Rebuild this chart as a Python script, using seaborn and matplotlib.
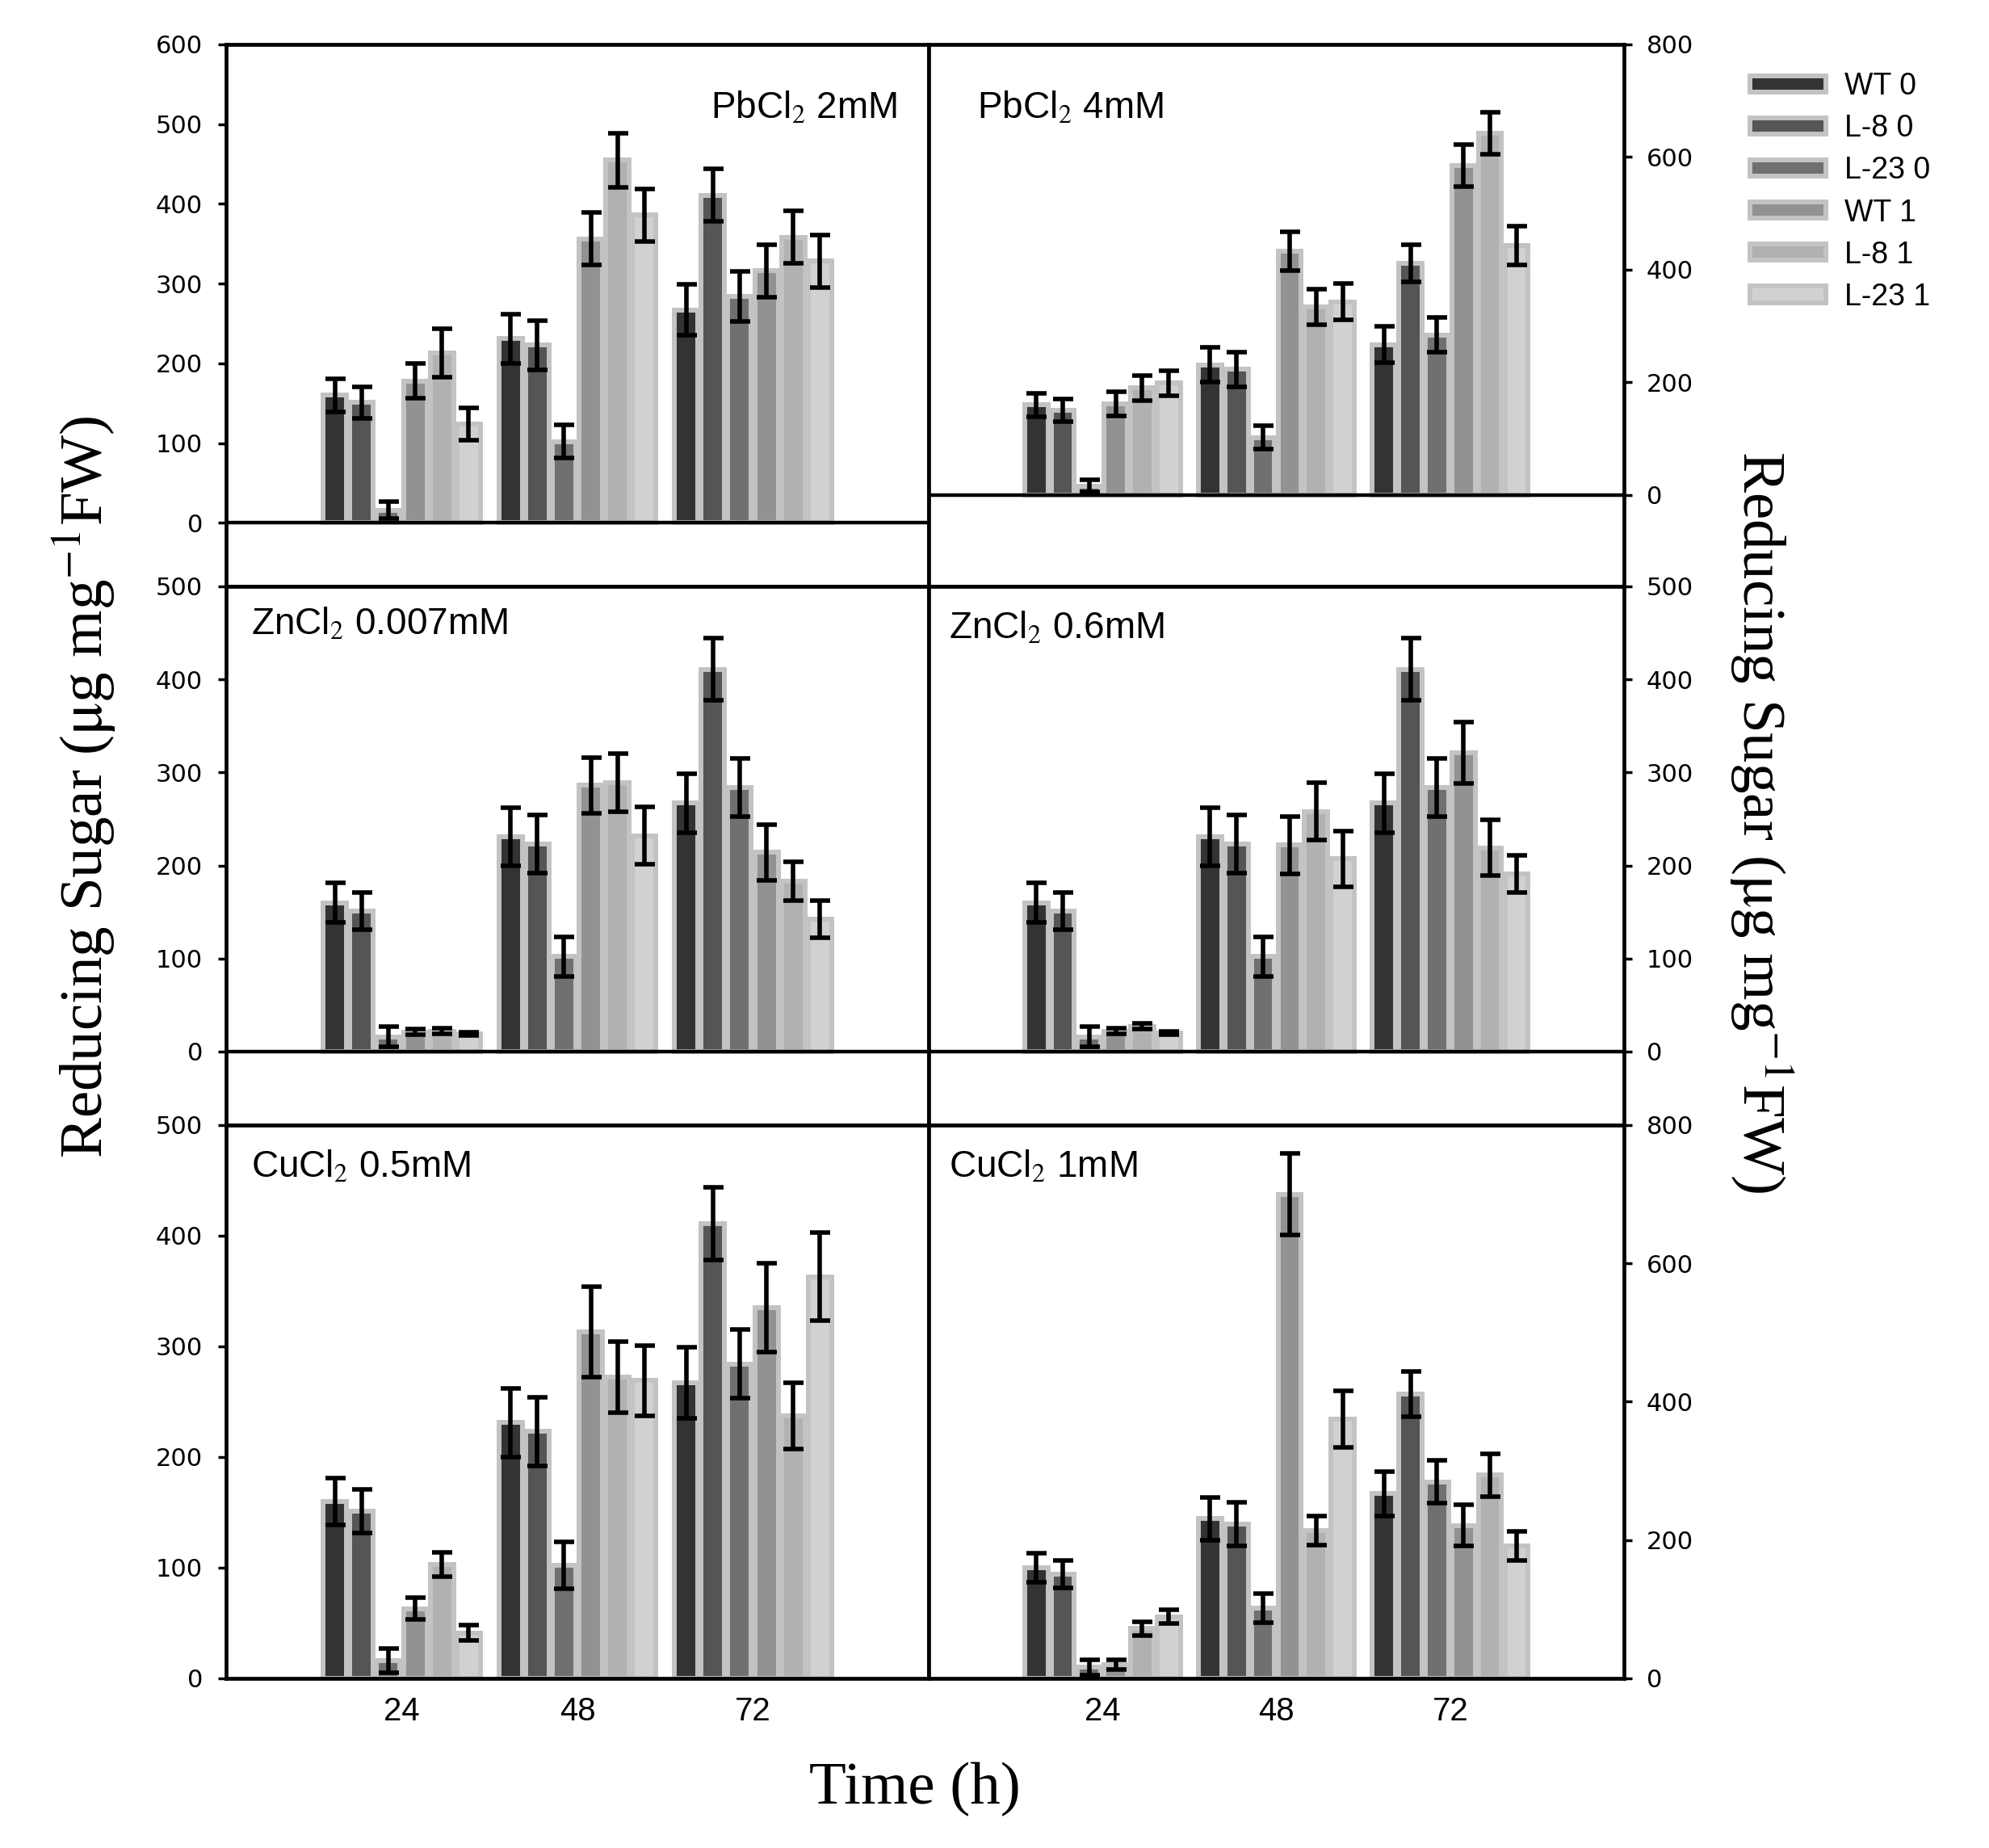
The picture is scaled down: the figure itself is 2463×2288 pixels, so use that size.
import numpy as np
import pandas as pd
import matplotlib
matplotlib.use("Agg")
import matplotlib.pyplot as plt
import seaborn as sns
from matplotlib.container import BarContainer

# ---------------- data ----------------
times = ["24", "48", "72"]
groups = ["WT 0", "L-8 0", "L-23 0", "WT 1", "L-8 1", "L-23 1"]
colors = ["#333333", "#555555", "#707070", "#929292", "#b1b1b1", "#d1d1d1"]

# controls (same in every panel)
wt0 = [160, 231, 267]
wt0_err = [21, 31, 32]
l8_0 = [151, 223, 411]
l8_0_err = [20, 31, 33]
l23_0 = [16, 102, 284]
l23_0_err = [11, 21, 31]

# PbCl2 2mM
pb2_wt1 = [178, 356, 316];   pb2_wt1_err = [22, 33, 33]
pb2_l81 = [213, 455, 358];   pb2_l81_err = [30, 34, 33]
pb2_l231 = [124, 386, 328];  pb2_l231_err = [20, 33, 33]
# PbCl2 4mM
pb4_wt1 = [162, 433, 585];   pb4_wt1_err = [21, 35, 37]
pb4_l81 = [190, 334, 642];   pb4_l81_err = [22, 32, 37]
pb4_l231 = [199, 343, 443];  pb4_l231_err = [22, 32, 34]
# ZnCl2 0.007mM
zn1_wt1 = [21, 286, 214];    zn1_wt1_err = [3, 30, 30]
zn1_l81 = [22, 289, 183];    zn1_l81_err = [3, 31, 21]
zn1_l231 = [19, 232, 142];   zn1_l231_err = [2, 31, 20]
# ZnCl2 0.6mM
zn2_wt1 = [22, 222, 321];    zn2_wt1_err = [3, 31, 33]
zn2_l81 = [27, 258, 219];    zn2_l81_err = [3, 31, 30]
zn2_l231 = [20, 207, 191];   zn2_l231_err = [2, 30, 20]
# CuCl2 0.5mM
cu1_wt1 = [63, 313, 335];    cu1_wt1_err = [10, 41, 40]
cu1_l81 = [103, 272, 237];   cu1_l81_err = [11, 32, 30]
cu1_l231 = [41, 269, 363];   cu1_l231_err = [7, 32, 40]
# CuCl2 1mM
cu2_wt1 = [20, 700, 221];    cu2_wt1_err = [7, 59, 30]
cu2_l81 = [72, 214, 294];    cu2_l81_err = [10, 21, 31]
cu2_l231 = [89, 375, 191];   cu2_l231_err = [10, 41, 21]

titles = [r"PbCl$_\mathrm{2}$ 2mM", r"PbCl$_\mathrm{2}$ 4mM",
          r"ZnCl$_\mathrm{2}$ 0.007mM", r"ZnCl$_\mathrm{2}$ 0.6mM",
          r"CuCl$_\mathrm{2}$ 0.5mM", r"CuCl$_\mathrm{2}$ 1mM"]
treat_vals = [(pb2_wt1, pb2_l81, pb2_l231), (pb4_wt1, pb4_l81, pb4_l231),
              (zn1_wt1, zn1_l81, zn1_l231), (zn2_wt1, zn2_l81, zn2_l231),
              (cu1_wt1, cu1_l81, cu1_l231), (cu2_wt1, cu2_l81, cu2_l231)]
treat_errs = [(pb2_wt1_err, pb2_l81_err, pb2_l231_err), (pb4_wt1_err, pb4_l81_err, pb4_l231_err),
              (zn1_wt1_err, zn1_l81_err, zn1_l231_err), (zn2_wt1_err, zn2_l81_err, zn2_l231_err),
              (cu1_wt1_err, cu1_l81_err, cu1_l231_err), (cu2_wt1_err, cu2_l81_err, cu2_l231_err)]

# ---------------- style ----------------
sns.set_style("white")
plt.rcParams["font.family"] = ["Liberation Sans", "DejaVu Sans"]
plt.rcParams["mathtext.fontset"] = "stix"
for key in ["text.color", "axes.labelcolor", "xtick.color", "ytick.color"]:
    plt.rcParams[key] = "black"

fig = plt.figure(figsize=(24.63, 22.88), dpi=100)

col_x = [(0.1137, 0.3532), (0.4669, 0.3496)]
row_y = [(0.6827, 0.2933), (0.3912, 0.2915), (0.0918, 0.2994)]
ylims = [(-79.6, 600), (-162, 800), (-79, 500), (-79, 500), (0, 500), (0, 800)]
ytick_sets = [np.arange(0, 601, 100), np.arange(0, 801, 200), np.arange(0, 501, 100),
              np.arange(0, 501, 100), np.arange(0, 501, 100), np.arange(0, 801, 200)]
title_pos = [(0.955, 0.882, "right"), (0.070, 0.882, "left"),
             (0.036, 0.930, "left"), (0.029, 0.922, "left"),
             (0.036, 0.924, "left"), (0.029, 0.924, "left")]

edge_col = "#c3c3c3"
axes = []
bar_conts = []
for k in range(6):
    r, c = divmod(k, 2)
    ax = fig.add_axes([col_x[c][0], row_y[r][0], col_x[c][1], row_y[r][1]])
    axes.append(ax)
    vals = [wt0, l8_0, l23_0] + list(treat_vals[k])
    errs = [wt0_err, l8_0_err, l23_0_err] + list(treat_errs[k])
    df = pd.DataFrame({
        "time": [t for g in groups for t in times],
        "group": [g for g in groups for t in times],
        "value": [v for vs in vals for v in vs],
    })
    sns.barplot(data=df, x="time", y="value", hue="group", order=times,
                hue_order=groups, palette=colors, width=0.915, gap=0.127,
                errorbar=None, edgecolor=edge_col, linewidth=4.3,
                legend=False, ax=ax, zorder=2)
    conts = [cn for cn in ax.containers if isinstance(cn, BarContainer)]
    bar_conts.append(conts)
    for j, cont in enumerate(conts):
        xs = [p.get_x() + p.get_width() / 2 for p in cont.patches]
        hs = [p.get_height() for p in cont.patches]
        ax.errorbar(xs, hs, yerr=errs[j], fmt="none", ecolor="black",
                    elinewidth=4.0, capsize=9, capthick=4.0, zorder=4)
    ax.set_xlim(-1.0, 3.0)
    ax.set_ylim(*ylims[k])
    ax.set_yticks(ytick_sets[k])
    ax.set_yticklabels([str(int(v)) for v in ytick_sets[k]],
                       fontfamily="DejaVu Sans", fontsize=22)
    ax.set_xlabel("")
    ax.set_ylabel("")
    if ylims[k][0] < 0:
        ax.axhline(0, color="black", lw=3.2, zorder=5)
    for s in ax.spines.values():
        s.set_linewidth(3.4)
        s.set_color("black")
    if c == 0:
        ax.tick_params(axis="y", which="both", left=True, right=False,
                       labelleft=True, labelright=False, direction="out",
                       length=7, width=2.5, pad=14)
    else:
        ax.tick_params(axis="y", which="both", left=False, right=True,
                       labelleft=False, labelright=True, direction="out",
                       length=7, width=2.5, pad=13)
    if r == 2:
        ax.tick_params(axis="x", bottom=False, length=0, pad=16, labelsize=29)
    else:
        ax.tick_params(axis="x", bottom=False, labelbottom=False, length=0)
    tx, ty, ha = title_pos[k]
    ax.text(tx, ty, titles[k], transform=ax.transAxes, ha=ha, va="center",
            fontsize=33, zorder=6)

# legend
handles = [cont.patches[0] for cont in bar_conts[0]]
fig.legend(handles, groups, loc="upper left", bbox_to_anchor=(0.880, 0.961),
           frameon=False, fontsize=27, handlelength=2.5, handleheight=0.45,
           handletextpad=0.62, labelspacing=0.43, borderpad=0, borderaxespad=0)

ylab = r"Reducing Sugar ($\mathrm{\mu}$g mg$^{\mathrm{-1}}$FW)"
fig.text(105 / 2463, 1 - 974 / 2288, ylab, rotation=90, ha="center", va="center",
         fontsize=54, fontfamily="Liberation Serif")
fig.text(2180 / 2463, 1 - 1018 / 2288, ylab, rotation=270, ha="center", va="center",
         fontsize=54, fontfamily="Liberation Serif")
fig.text(1133 / 2463, 1 - 2215 / 2288, "Time (h)", ha="center", va="center",
         fontsize=54, fontfamily="Liberation Serif")

fig.savefig("out.png", dpi=100)
